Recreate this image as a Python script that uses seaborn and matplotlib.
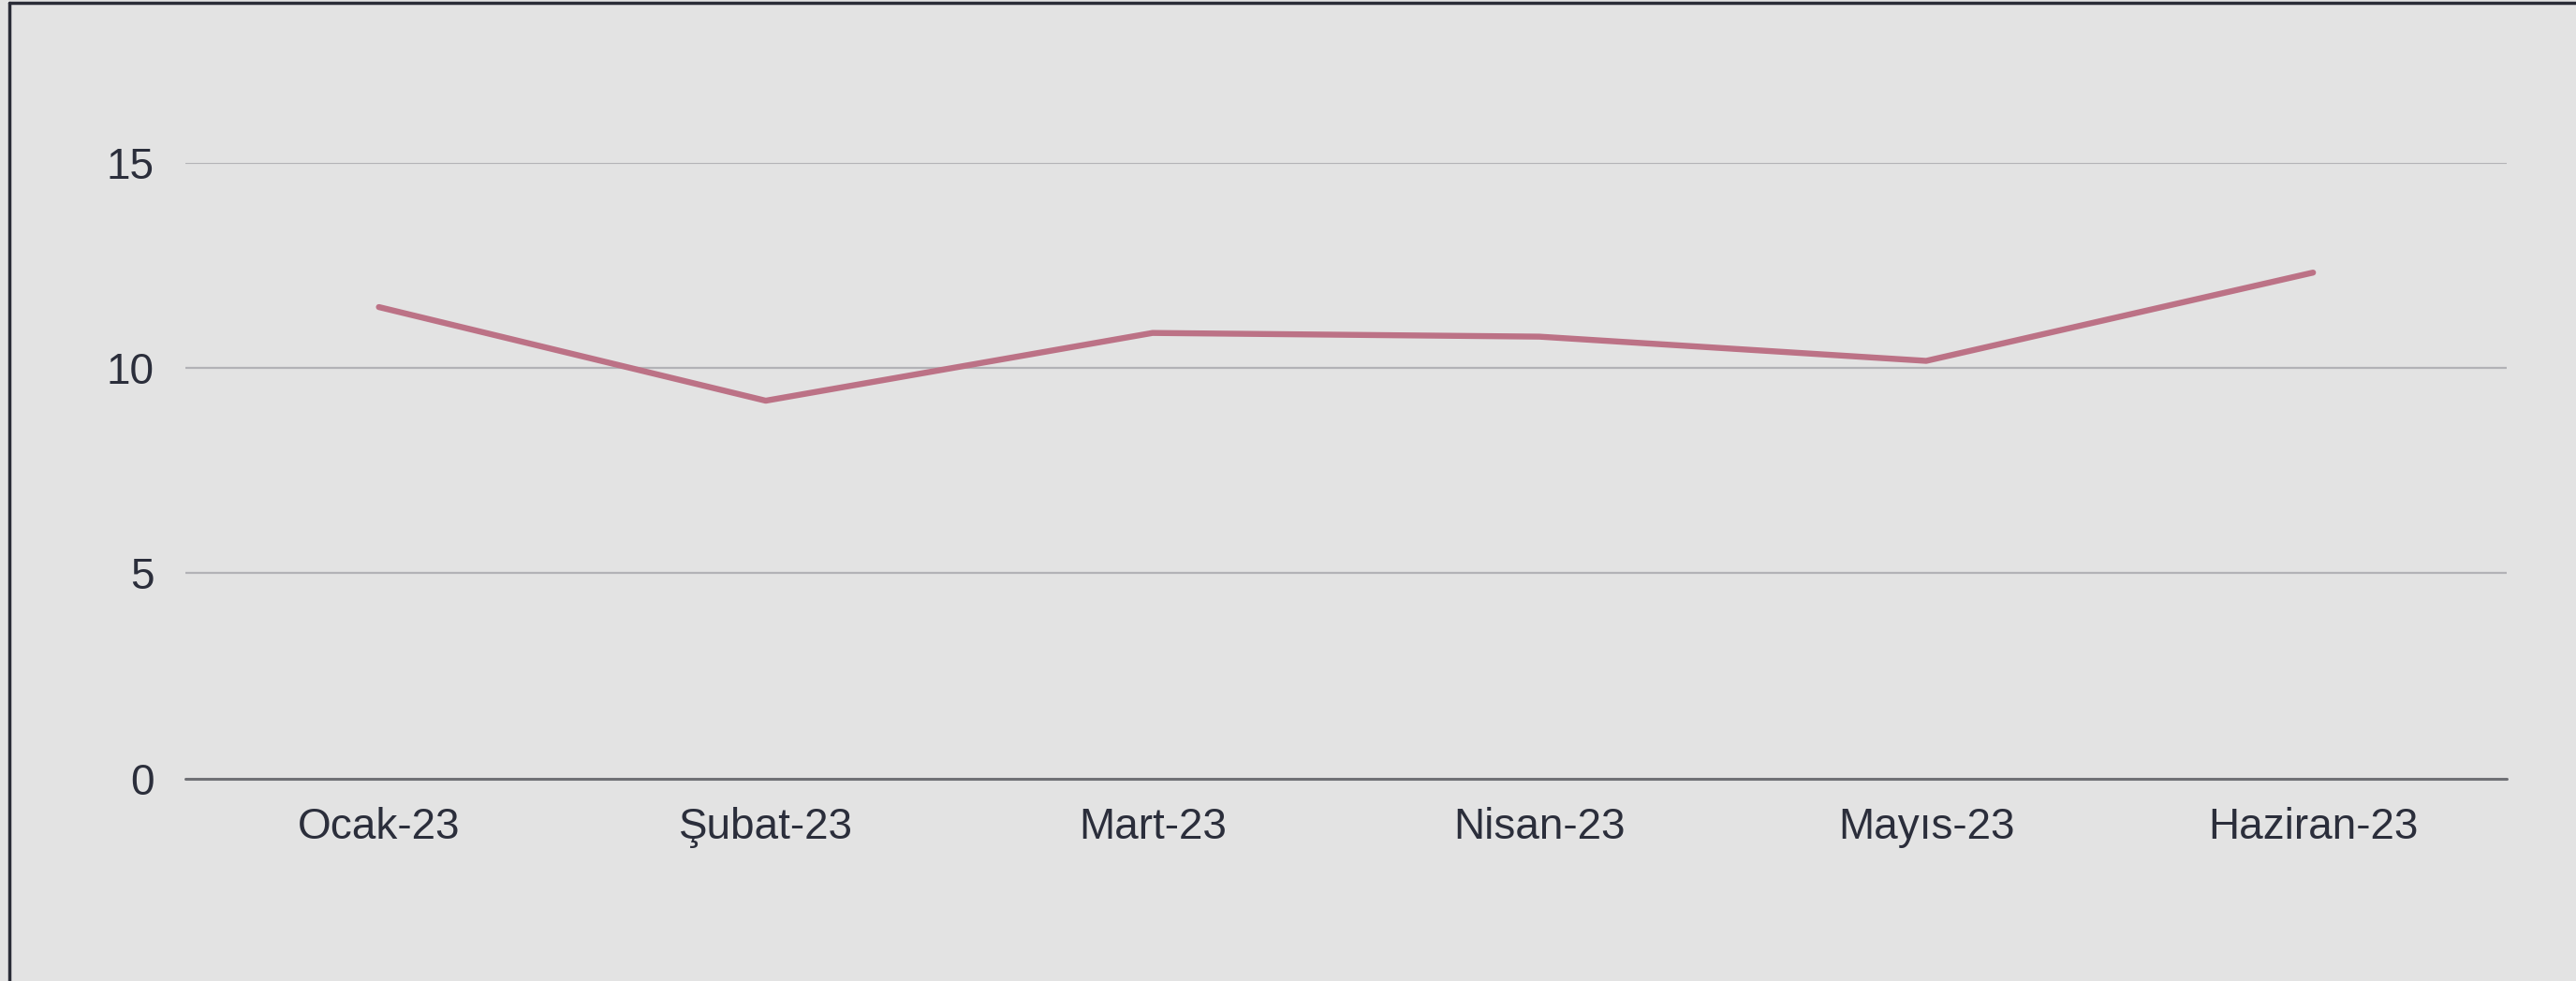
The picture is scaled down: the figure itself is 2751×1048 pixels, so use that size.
import matplotlib
matplotlib.use("Agg")
import matplotlib.pyplot as plt
import seaborn as sns
import pandas as pd
from matplotlib.lines import Line2D

# Values
months = ['Ocak-23', 'Şubat-23', 'Mart-23', 'Nisan-23', 'Mayıs-23', 'Haziran-23']
values = [11.48, 9.2, 10.85, 10.76, 10.17, 12.32]
y_ticks = [0, 5, 10, 15]

bg = '#e3e3e3'
line_color = '#bc7286'
text_color = '#2b2e3b'

sns.set_theme(style='white')
plt.rcParams['font.family'] = ['Liberation Sans', 'DejaVu Sans']

df = pd.DataFrame({'Ay': months, 'Deger': values})

fig = plt.figure(figsize=(27.51, 10.48), dpi=100, facecolor=bg)
ax = fig.add_axes([0.072, 0.2065, 0.901, 0.6278])
ax.set_facecolor(bg)

sns.lineplot(data=df, x='Ay', y='Deger', ax=ax, color=line_color,
             linewidth=4.6, sort=False, solid_capstyle='round')

ax.set_xlim(-0.5, len(months) - 0.5)
ax.set_ylim(0, 15)
ax.set_yticks(y_ticks)
ax.set_yticklabels([str(t) for t in y_ticks])
ax.set_xlabel('')
ax.set_ylabel('')

# gridlines
for t in y_ticks[1:]:
    ax.axhline(t, color='#b2b2b6', linewidth=1.6, zorder=0)
ax.axhline(0, color='#6f7075', linewidth=2.2, zorder=1, clip_on=False)

for s in ax.spines.values():
    s.set_visible(False)

ax.tick_params(axis='both', length=0, labelsize=33, colors=text_color)
ax.tick_params(axis='y', pad=24)
ax.tick_params(axis='x', pad=22)

# outer frame (left and top edges visible)
fig.add_artist(Line2D([0.0036, 0.0036], [0, 0.997], transform=fig.transFigure,
                      color='#2a2c37', linewidth=2.5))
fig.add_artist(Line2D([0.0036, 1], [0.997, 0.997], transform=fig.transFigure,
                      color='#2a2c37', linewidth=2.5))

fig.savefig('out.png', dpi=100, facecolor=bg)
